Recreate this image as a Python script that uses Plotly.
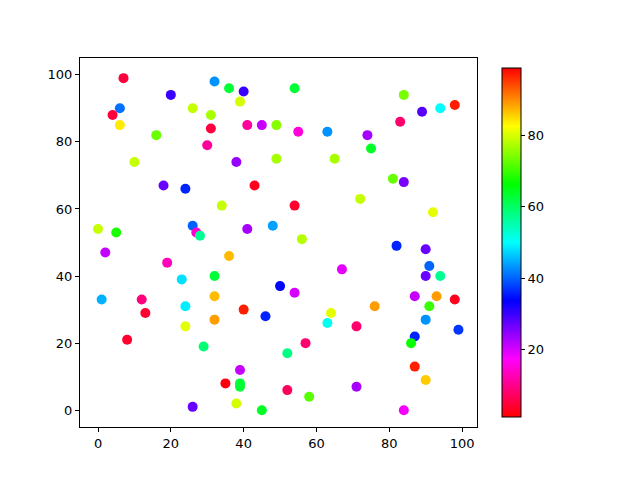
import plotly.graph_objects as go

x = [7, 20, 6, 4, 6, 16, 10, 32, 36, 40, 39, 54, 31, 31, 30, 41, 45, 49, 55, 63,
     38, 49, 65, 84, 89, 94, 98, 83, 74, 75, 81, 84, 18, 24, 0, 5, 2, 26, 27, 28,
     19, 23, 1, 12, 43, 34, 54, 41, 48, 56, 36, 32, 50, 54, 67, 32, 72, 92, 82, 90,
     91, 90, 94, 87, 93, 98, 13, 8, 24, 24, 29, 26, 32, 40, 46, 64, 63, 57, 52, 39,
     35, 39, 39, 52, 58, 38, 45, 91, 76, 71, 90, 87, 99, 86, 87, 90, 71, 84, 26]
y = [99, 94, 90, 88, 85, 82, 74, 98, 96, 95, 92, 96, 88, 84, 79, 85, 85, 85, 83, 83,
     74, 75, 75, 94, 89, 90, 91, 86, 82, 78, 69, 68, 67, 66, 54, 53, 47, 55, 53, 52,
     44, 39, 33, 33, 67, 61, 61, 54, 55, 51, 46, 40, 37, 35, 42, 34, 63, 59, 49, 48,
     43, 40, 40, 34, 34, 33, 29, 21, 31, 25, 19, 1, 27, 30, 28, 29, 26, 20, 17, 12,
     8, 8, 7, 6, 4, 2, 0, 31, 31, 25, 27, 22, 24, 20, 13, 9, 7, 0, 90]
c = [5, 30, 41, 5, 84, 73, 79, 43, 63, 30, 80, 63, 77, 5, 11, 11, 21, 75, 15, 43,
     24, 77, 77, 74, 28, 50, 97, 8, 23, 64, 73, 26, 27, 36, 79, 68, 21, 40, 14, 57,
     13, 48, 45, 9, 3, 79, 4, 23, 44, 78, 87, 63, 34, 20, 19, 87, 79, 81, 36, 27,
     40, 27, 57, 21, 89, 3, 4, 4, 49, 81, 59, 27, 89, 97, 36, 81, 51, 8, 58, 21,
     2, 63, 63, 7, 72, 80, 64, 70, 89, 8, 43, 36, 37, 67, 97, 86, 23, 18, 79]

x_ticks = [0, 20, 40, 60, 80, 100]
y_ticks = [0, 20, 40, 60, 80, 100]
c_ticks = [20, 40, 60, 80]

hsv_r = [
    [0.0, "rgb(255,0,0)"],
    [1 / 6, "rgb(255,0,255)"],
    [2 / 6, "rgb(0,0,255)"],
    [3 / 6, "rgb(0,255,255)"],
    [4 / 6, "rgb(0,255,0)"],
    [5 / 6, "rgb(255,255,0)"],
    [1.0, "rgb(255,0,0)"],
]

font = dict(family="DejaVu Sans", size=13, color="black")

fig = go.Figure(go.Scatter(
    x=x, y=y, mode="markers",
    marker=dict(
        size=10, color=c, colorscale=hsv_r, cmin=1, cmax=99,
        line=dict(width=0),
        colorbar=dict(
            thickness=19, len=1, lenmode="fraction", y=0.5, yanchor="middle",
            x=1.063, xanchor="left", xpad=0,
            outlinecolor="black", outlinewidth=1,
            tickvals=c_ticks, ticks="outside", ticklen=4, tickcolor="black",
            tickfont=font,
        ),
    ),
    showlegend=False,
))

axis_common = dict(
    showline=True, linecolor="black", linewidth=1, mirror=True,
    ticks="outside", ticklen=4, tickcolor="black", showgrid=False,
    zeroline=False, tickfont=font,
)
fig.update_xaxes(range=[-4.95, 104.1], tickvals=x_ticks, **axis_common)
fig.update_yaxes(range=[-5.0, 105.0], tickvals=y_ticks, **axis_common)

fig.update_layout(
    width=632, height=472,
    margin=dict(l=72, r=163, t=50, b=53),
    paper_bgcolor="white", plot_bgcolor="white",
    font=font,
)

fig.write_html("out.html")
